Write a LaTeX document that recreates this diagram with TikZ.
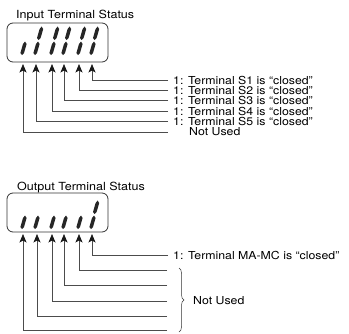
\documentclass[tikz,border=0pt]{standalone}
\usepackage{fontspec}
\setmainfont{TeX Gyre Heros}
\newfontfamily\lblfont{TeX Gyre Heros}[FakeStretch=1.12]
\usetikzlibrary{arrows.meta,decorations.pathreplacing}
\tikzset{
    statusbox/.style={draw=black!80,line width=0.8pt,rounded corners=6pt},
    feed/.style={draw=black!70,line width=0.7pt,
        -{Stealth[length=8.5pt,width=7pt,inset=2pt,color=black!90]}},
    lbl/.style={anchor=west,inner xsep=5pt,inner ysep=0pt,font=\lblfont\fontsize{11}{12}\selectfont},
    ttl/.style={anchor=base west,inner sep=0pt,font=\lblfont\fontsize{11.2}{12}\selectfont},
    seg/.pic={\fill[black!85] (0,0)--(2,-2)--(4.6,-11)--(3,-13.5)--(1,-11)--(-1.6,-2)--cycle;}
}
\begin{document}
\begin{tikzpicture}[x=1pt,y=-1pt]
    \useasboundingbox (0,0) rectangle (349,333);
    \node[ttl] (intitle) at (16,18) {Input Terminal Status};
    \draw[statusbox] (7,23) rectangle (108,62);
    \pic at (22,55) {seg};
    \foreach \xd in {35,51,63,78,91}{
        \pic at (\xd,55) {seg};
        \pic at ({\xd+3.6},40) {seg};
    }
    \foreach \xi/\yi/\tn in {
        92/80/S1, 79/90.4/S2, 64/100.8/S3, 52/111.2/S4, 36/121.6/S5}{
        \node[lbl] (in\tn) at (168,\yi) {1: Terminal \tn\ is “closed”};
        \coordinate (tip\tn) at (\xi,64);
        \draw[feed] (in\tn.west) -| (tip\tn);
    }
    \coordinate (endNU) at (168,132);
    \coordinate (tipNU) at (23,64);
    \node[lbl] (inNU) at (184,132) {Not Used};
    \draw[feed] (endNU) -| (tipNU);

    \node[ttl] (outtitle) at (17,190) {Output Terminal Status};
    \draw[statusbox] (7,193) rectangle (108,232);
    \foreach \xd in {22,35,51,63,78}{
        \pic at (\xd,229) {seg};
    }
    \pic at (91,229) {seg};
    \pic at (94.6,214) {seg};
    \node[lbl] (outMA) at (168,255) {1: Terminal MA-MC is “closed”};
    \coordinate (tipMA) at (92,234);
    \draw[feed] (outMA.west) -| (tipMA);
    \foreach \xi/\yi/\n in {79/270/1, 64/285/2, 52/301/3, 37/316/4, 23/330/5}{
        \coordinate (end\n) at (167,\yi);
        \coordinate (tip\n) at (\xi,234);
        \draw[feed] (end\n) -| (tip\n);
    }
    \coordinate (braceA) at (179,268);
    \coordinate (braceB) at (179,332);
    \draw[black!80,line width=0.5pt,decorate,decoration={brace,amplitude=5pt}] (braceA) -- (braceB);
    \node[lbl] (outNU) at (188,301) {Not Used};
\end{tikzpicture}
\end{document}
